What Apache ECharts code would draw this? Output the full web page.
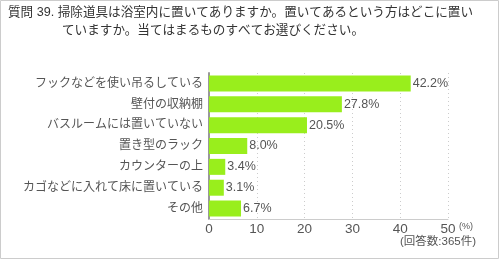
<!DOCTYPE html>
<html><head><meta charset="utf-8">
<script src="https://cdn.jsdelivr.net/npm/echarts@6/dist/echarts.min.js"></script>
<style>html,body{margin:0;padding:0;background:#fff;}#c{width:500px;height:260px;}</style>
</head><body><div id="c"></div>
<script>
const categories = ["フックなどを使い吊るしている","壁付の収納棚","バスルームには置いていない","置き型のラック","カウンターの上","カゴなどに入れて床に置いている","その他"];
const values = [42.2, 27.8, 20.5, 8.0, 3.4, 3.1, 6.7];
const xTicks = [0, 10, 20, 30, 40, 50];
const titleLine1 = "質問 39. 掃除道具は浴室内に置いてありますか。置いてあるという方はどこに置い";
const titleLine2 = "ていますか。当てはまるものすべてお選びください。";
const unitText = "(%)";
const noteText = "(回答数:365件)";

const font = '"Liberation Sans", "Noto Sans CJK JP", sans-serif';
const chart = echarts.init(document.getElementById('c'), null, {renderer: 'canvas'});
chart.setOption({
  animation: false,
  textStyle: {fontFamily: font},
  title: [
    {text: titleLine1, left: 8, top: 6, padding: 0, textStyle: {fontSize: 12.6, fontWeight: 'normal', color: '#333', fontFamily: font}},
    {text: titleLine2, left: 62, top: 24, padding: 0, textStyle: {fontSize: 12.6, fontWeight: 'normal', color: '#333', fontFamily: font}}
  ],
  grid: {left: 209, right: 52, top: 73, bottom: 41, containLabel: false},
  xAxis: {
    type: 'value', min: xTicks[0], max: xTicks[xTicks.length - 1], interval: 10,
    axisLine: {show: true, lineStyle: {color: '#ccc', width: 1}},
    axisTick: {show: false},
    axisLabel: {color: '#555', fontSize: 13.5, margin: 4, fontFamily: font},
    splitLine: {show: true, lineStyle: {color: '#ccc', type: [1, 3], width: 1}}
  },
  yAxis: {
    type: 'category', data: categories, inverse: true,
    axisLine: {show: true, lineStyle: {color: '#999', width: 2}},
    axisTick: {show: false},
    axisLabel: {color: '#555', fontSize: 12, margin: 6, fontFamily: font},
    splitLine: {show: false}
  },
  series: [{
    type: 'bar', data: values, barWidth: 16,
    itemStyle: {color: '#99ee1c'},
    label: {show: true, position: 'right', distance: 2, color: '#555', fontSize: 12.5, fontFamily: font,
      formatter: p => p.value.toFixed(1) + '%'}
  }],
  graphic: [
    {type: 'rect', shape: {x: 0.5, y: 0.5, width: 498, height: 258}, style: {fill: 'none', stroke: '#ccc', lineWidth: 1}, silent: true},
    {type: 'text', left: 459, top: 222, style: {text: unitText, fontSize: 9, fill: '#555', fontFamily: font}},
    {type: 'text', right: 24, top: 236, style: {text: noteText, fontSize: 11.5, fill: '#555', fontFamily: font}}
  ]
});
</script></body></html>
